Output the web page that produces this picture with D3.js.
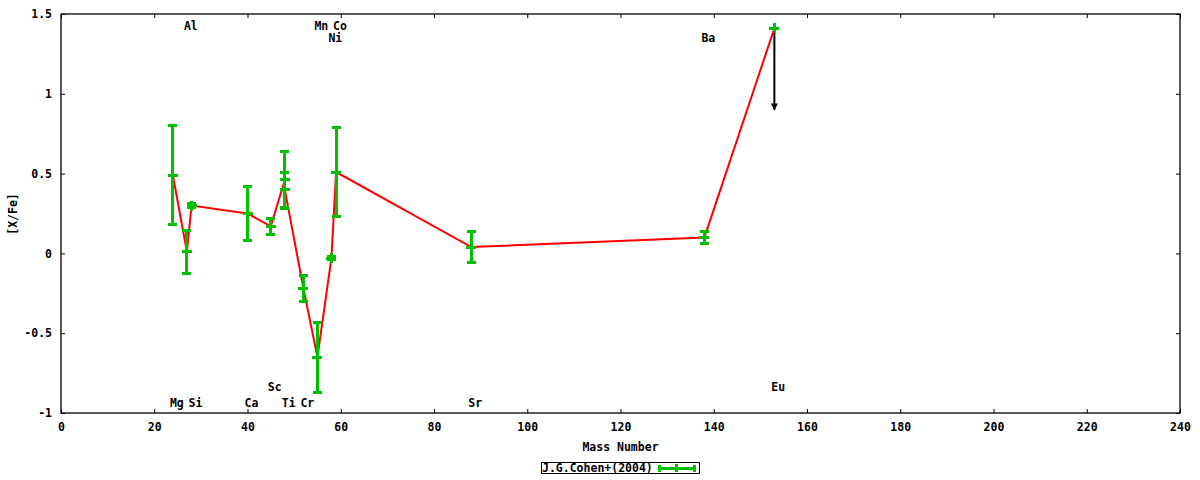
<!DOCTYPE html>
<html>
<head>
<meta charset="utf-8">
<script src="https://cdn.jsdelivr.net/npm/d3@7"></script>
<style>
  body { margin: 0; background: white; }
  text { font-family: "DejaVu Sans Mono", monospace; font-size: 11.5px; font-weight: bold; fill: black; }
</style>
</head>
<body>
<div id="chart"></div>
<script>
const width = 1200
const height = 480

// measured abundances, J.G.Cohen+(2004)
const elements = ['Mg', 'Al', 'Si', 'Ca', 'Sc', 'Ti', 'Ti', 'Cr', 'Mn', 'Ni', 'Co', 'Sr', 'Ba', 'Eu']
const massNumber = [24, 27, 28, 40, 45, 48, 48, 52, 55, 58, 59, 88, 138, 153]
const xFe = [0.49, 0.01, 0.30, 0.25, 0.17, 0.46, 0.40, -0.22, -0.65, -0.03, 0.51, 0.04, 0.10, 1.41]
const xFeErr = [0.31, 0.135, 0.01, 0.17, 0.05, 0.18, 0.11, 0.08, 0.22, 0.01, 0.28, 0.10, 0.04, 0]
// upper limit arrow (Eu)
const limitMass = [153]
const limitFrom = [1.41]
const limitTo = [0.90]

// element name labels: slot 0/1 near top, 2/3 near bottom
const labelNames = ['Al', 'Mn', 'Co', 'Ni', 'Ba', 'Mg', 'Si', 'Ca', 'Ti', 'Cr', 'Sr', 'Sc', 'Eu']
const labelMass = [27, 55, 59, 58, 138, 24, 28, 40, 48, 52, 88, 45, 153]
const labelSlot = [0, 0, 0, 1, 1, 2, 2, 2, 2, 2, 2, 3, 3]

const xTicks = d3.range(0, 241, 20)
const yTicks = [-1, -0.5, 0, 0.5, 1, 1.5]

const plotLeft = 61
const plotRight = 1180
const plotTop = 14
const plotBottom = 413

const xScale = d3.scaleLinear().domain([0, 240]).range([plotLeft, plotRight])
const yScale = d3.scaleLinear().domain([-1, 1.5]).range([plotBottom, plotTop])

const svg = d3.select('#chart').append('svg')
    .attr('width', width)
    .attr('height', height)

svg.append('rect')
    .attr('width', width)
    .attr('height', height)
    .attr('fill', 'white')

// axes with inward ticks, mirrored on all sides
const tickLen = 4
svg.append('g')
    .attr('transform', 'translate(0,' + plotBottom + ')')
    .call(d3.axisBottom(xScale).tickValues(xTicks).tickSize(-tickLen).tickPadding(10).tickFormat(d3.format('d')))
svg.append('g')
    .attr('transform', 'translate(0,' + plotTop + ')')
    .call(d3.axisTop(xScale).tickValues(xTicks).tickSize(-tickLen).tickFormat(''))
svg.append('g')
    .attr('transform', 'translate(' + plotLeft + ',0)')
    .call(d3.axisLeft(yScale).tickValues(yTicks).tickSize(-tickLen).tickPadding(9).tickFormat(d => String(d)))
svg.append('g')
    .attr('transform', 'translate(' + plotRight + ',0)')
    .call(d3.axisRight(yScale).tickValues(yTicks).tickSize(-tickLen).tickFormat(''))

svg.selectAll('.domain').remove()
svg.selectAll('.tick line').attr('stroke', 'black')
svg.selectAll('.tick text')
    .style('font-family', '"DejaVu Sans Mono", monospace')
    .style('font-size', '11.5px')
    .style('font-weight', 'bold')
    .attr('fill', 'black')

svg.append('rect')
    .attr('x', plotLeft)
    .attr('y', plotTop)
    .attr('width', plotRight - plotLeft)
    .attr('height', plotBottom - plotTop)
    .attr('fill', 'none')
    .attr('stroke', 'black')
    .attr('stroke-width', 1.3)

// axis titles
svg.append('text')
    .attr('x', (plotLeft + plotRight) / 2)
    .attr('y', 447)
    .attr('text-anchor', 'middle')
    .attr('dominant-baseline', 'middle')
    .text('Mass Number')
svg.append('text')
    .attr('transform', 'translate(13,214) rotate(-90)')
    .attr('text-anchor', 'middle')
    .attr('dominant-baseline', 'middle')
    .text('[X/Fe]')

// element labels
const slotY = [plotTop + 12, plotTop + 24, plotBottom - 10, plotBottom - 26]
svg.append('g').selectAll('text')
    .data(labelNames)
    .join('text')
    .attr('x', (d, i) => xScale(labelMass[i]) - 3)
    .attr('y', (d, i) => slotY[labelSlot[i]])
    .attr('dominant-baseline', 'middle')
    .text(d => d)

// connecting line
const points = elements.map((e, i) => ({ x: massNumber[i], y: xFe[i], err: xFeErr[i] }))
const valueline = d3.line()
    .x(d => xScale(d.x))
    .y(d => yScale(d.y))
svg.append('path')
    .datum(points)
    .attr('d', valueline)
    .attr('fill', 'none')
    .attr('stroke', '#ff0000')
    .attr('stroke-width', 2)

// upper limit arrow
svg.append('defs').append('marker')
    .attr('id', 'head')
    .attr('viewBox', '0 0 10 10')
    .attr('refX', 9)
    .attr('refY', 5)
    .attr('markerWidth', 4)
    .attr('markerHeight', 3.5)
    .attr('markerUnits', 'strokeWidth')
    .attr('orient', 'auto')
    .append('path')
    .attr('d', 'M0,0 L10,5 L0,10 Z')
    .attr('fill', 'black')
svg.append('g').selectAll('line')
    .data(limitMass)
    .join('line')
    .attr('x1', d => xScale(d))
    .attr('x2', d => xScale(d))
    .attr('y1', (d, i) => yScale(limitFrom[i]))
    .attr('y2', (d, i) => yScale(limitTo[i]))
    .attr('stroke', 'black')
    .attr('stroke-width', 2)
    .attr('marker-end', 'url(#head)')

// error bars and point markers
const green = '#00c000'
const bars = svg.append('g')
    .attr('stroke', green)
    .attr('stroke-width', 3)
    .attr('shape-rendering', 'crispEdges')
const withErr = points.filter(d => d.err > 0)
bars.selectAll('.bar')
    .data(withErr)
    .join('line')
    .attr('class', 'bar')
    .attr('x1', d => xScale(d.x))
    .attr('x2', d => xScale(d.x))
    .attr('y1', d => yScale(d.y + d.err))
    .attr('y2', d => yScale(d.y - d.err))
bars.selectAll('.capTop')
    .data(withErr)
    .join('line')
    .attr('class', 'capTop')
    .attr('x1', d => xScale(d.x) - 4.5)
    .attr('x2', d => xScale(d.x) + 4.5)
    .attr('y1', d => yScale(d.y + d.err))
    .attr('y2', d => yScale(d.y + d.err))
bars.selectAll('.capBottom')
    .data(withErr)
    .join('line')
    .attr('class', 'capBottom')
    .attr('x1', d => xScale(d.x) - 4.5)
    .attr('x2', d => xScale(d.x) + 4.5)
    .attr('y1', d => yScale(d.y - d.err))
    .attr('y2', d => yScale(d.y - d.err))
bars.selectAll('.plusH')
    .data(points)
    .join('line')
    .attr('class', 'plusH')
    .attr('x1', d => xScale(d.x) - 5)
    .attr('x2', d => xScale(d.x) + 5)
    .attr('y1', d => yScale(d.y))
    .attr('y2', d => yScale(d.y))
bars.selectAll('.plusV')
    .data(points)
    .join('line')
    .attr('class', 'plusV')
    .attr('x1', d => xScale(d.x))
    .attr('x2', d => xScale(d.x))
    .attr('y1', d => yScale(d.y) - 5)
    .attr('y2', d => yScale(d.y) + 5)

// legend
const legend = svg.append('g')
legend.append('rect')
    .attr('x', 541.5)
    .attr('y', 462.5)
    .attr('width', 158)
    .attr('height', 11)
    .attr('fill', 'white')
    .attr('stroke', 'black')
    .attr('stroke-width', 1)
legend.append('text')
    .attr('x', 542)
    .attr('y', 468.5)
    .attr('dominant-baseline', 'middle')
    .text('J.G.Cohen+(2004)')
const lg = legend.append('g')
    .attr('stroke', green)
    .attr('stroke-width', 3)
    .attr('shape-rendering', 'crispEdges')
lg.append('line').attr('x1', 658).attr('x2', 695).attr('y1', 468).attr('y2', 468)
lg.append('line').attr('x1', 659).attr('x2', 659).attr('y1', 464.5).attr('y2', 471.5)
lg.append('line').attr('x1', 694).attr('x2', 694).attr('y1', 464.5).attr('y2', 471.5)
lg.append('line').attr('x1', 676.5).attr('x2', 676.5).attr('y1', 464).attr('y2', 472)
</script>
</body>
</html>
